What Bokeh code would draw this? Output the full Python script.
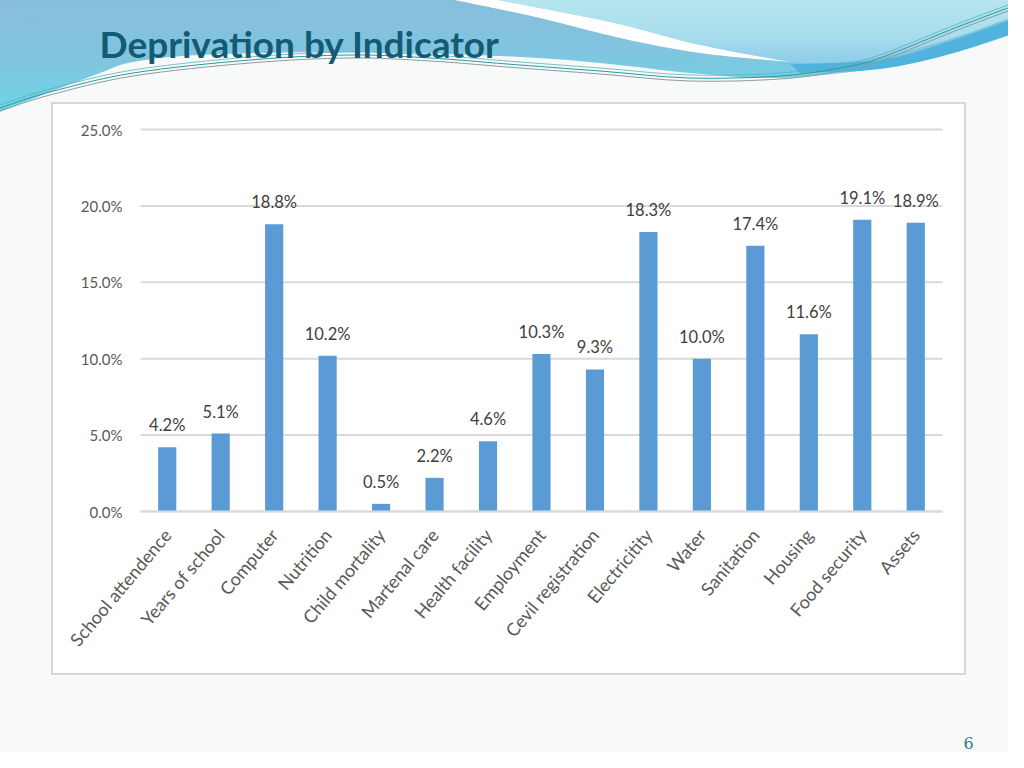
from bokeh.plotting import figure
from bokeh.models import (ColumnDataSource, Range1d, FixedTicker, PrintfTickFormatter, Label)
from bokeh.embed import file_html
from bokeh.resources import INLINE
from bokeh.core.properties import value
import math, base64

categories = ["School attendence", "Years of school", "Computer", "Nutrition",
              "Child mortality", "Martenal care", "Health facility", "Employment",
              "Cevil registration", "Electricitity", "Water", "Sanitation",
              "Housing", "Food security", "Assets"]
values = [4.2, 5.1, 18.8, 10.2, 0.5, 2.2, 4.6, 10.3, 9.3, 18.3, 10.0, 17.4, 11.6, 19.1, 18.9]
y_ticks = [0, 5, 10, 15, 20, 25]
title_text = "Deprivation by Indicator"
page_number = "6"

idx = list(range(len(categories)))
labels = [f"{v:.1f}%" for v in values]
src = ColumnDataSource(dict(x=idx, val=values, lab=labels))

W, H = 1008, 752
FL, FR, FT, FB = 140, 942, 129, 511      # chart plot area in page pixels
YMAX = 25.0
slot = (FR - FL) / len(categories)
ppu = (FB - FT) / YMAX
def dx(px): return (px - FL) / slot - 0.5     # page px -> x data
def dy(py): return (FB - py) / ppu            # page px -> y data
XLO, XHI = -0.5, len(categories) - 0.5

# ---- slide decoration (background only, no data) ----
def curve(points, start=True):
    P = points
    out = [f"M{P[0][0]},{P[0][1]}"] if start else [f"L{P[0][0]},{P[0][1]}"]
    for i in range(len(P) - 1):
        p0 = P[i - 1] if i > 0 else P[i]
        p1, p2 = P[i], P[i + 1]
        p3 = P[i + 2] if i + 2 < len(P) else P[i + 1]
        c1 = (p1[0] + (p2[0] - p0[0]) / 6, p1[1] + (p2[1] - p0[1]) / 6)
        c2 = (p2[0] - (p3[0] - p1[0]) / 6, p2[1] - (p3[1] - p1[1]) / 6)
        out.append(f"C{c1[0]:.1f},{c1[1]:.1f} {c2[0]:.1f},{c2[1]:.1f} {p2[0]},{p2[1]}")
    return " ".join(out)

lower = [(1024, 28), (950, 52), (880, 68), (780, 78), (690, 73), (600, 63),
         (500, 56), (350, 52), (200, 55), (133, 62), (100, 73), (50, 92), (0, 112)]
sw_top = [(498, 0), (610, 22), (700, 45), (790, 62)]
sw_bot = [(790, 62), (700, 53), (620, 38), (540, 18), (455, 0)]
right_low = [(1024, 13), (947, 40), (880, 57), (813, 64), (790, 62)]
band_top = [(790, 64), (880, 60), (947, 42), (1024, 15)]
band_bot = [(1024, 30), (950, 54), (880, 69), (800, 73)]
line_a = [(0, 108), (50, 92), (133, 73), (250, 60), (350, 55), (430, 58), (507, 64), (600, 71),
          (690, 78), (780, 76), (840, 68), (880, 58), (960, 26), (1024, 2)]

path_base = curve(lower) + " L0,0 L1024,0 Z"
path_right = curve(right_low) + " " + curve(sw_top[::-1], start=False) + " L1024,0 Z"
path_sw = curve(sw_top) + " " + curve(sw_bot, start=False) + " Z"
path_band = curve(band_top) + " " + curve(band_bot, start=False) + " Z"
def shifted(d): return [(x, y + d) for x, y in line_a]

svg = f'''<svg xmlns="http://www.w3.org/2000/svg" width="{W}" height="{H}" viewBox="0 0 {W} {H}">
<defs>
<linearGradient id="g1" x1="0" y1="0" x2="0.15" y2="1">
<stop offset="0" stop-color="#88bddb"/><stop offset="0.55" stop-color="#80c5df"/><stop offset="1" stop-color="#6cd6e5"/></linearGradient>
<linearGradient id="g2" x1="0" y1="0" x2="0" y2="1">
<stop offset="0" stop-color="#b6e6ee"/><stop offset="0.6" stop-color="#a6dcec"/><stop offset="1" stop-color="#8ccbea"/></linearGradient>
</defs>
<rect x="0" y="0" width="{W}" height="{H}" fill="#f8f9f9"/>
<path d="{path_base}" fill="url(#g1)"/>
<path d="{path_right}" fill="url(#g2)"/>
<path d="{path_sw}" fill="#ffffff"/>
<path d="{path_band}" fill="#4fb3dd"/>
<path d="{curve(line_a)}" fill="none" stroke="#2a9b9b" stroke-width="1"/>
<path d="{curve(shifted(3))}" fill="none" stroke="#8d9ba2" stroke-width="1"/>
<path d="{curve(shifted(-3))}" fill="none" stroke="#55b3c0" stroke-width="0.8"/>
<rect x="52" y="103" width="913" height="571" fill="#ffffff" stroke="#d6d6d6" stroke-width="2"/>
</svg>'''
bg = base64.b64encode(svg.encode()).decode()

# frame covers the whole canvas; the axes sit at fixed data locations
p = figure(width=W, height=H, x_range=Range1d(dx(0), dx(W)), y_range=Range1d(dy(H), dy(0)),
           output_backend="svg", toolbar_location=None, tools="",
           min_border_left=0, min_border_right=0, min_border_top=0, min_border_bottom=0)
p.title.visible = False
p.border_fill_color = None
p.background_fill_color = None
p.outline_line_color = None
p.styles = {"background-image": f"url('data:image/svg+xml;base64,{bg}')",
            "background-size": f"{W}px {H}px", "background-repeat": "no-repeat"}
p.xgrid.grid_line_color = None
p.ygrid.grid_line_color = None

# horizontal gridlines at the y ticks, limited to the plot area
grid_src = ColumnDataSource(dict(y=y_ticks))
p.segment(x0=XLO, x1=XHI, y0="y", y1="y", source=grid_src, line_color="#d9d9d9", line_width=2)

# bars and value labels
p.vbar(x="x", top="val", width=0.34, source=src, color="#5b9bd5", line_color=None)
p.text(x="x", y="val", text="lab", source=src, text_align="center", text_baseline="bottom",
       y_offset=-12, text_font=value("Lato"), text_font_size="16.5px", text_color="#404040")

# y axis
p.yaxis.ticker = FixedTicker(ticks=y_ticks)
p.yaxis.fixed_location = XLO
p.yaxis.bounds = (0, YMAX)
p.yaxis.formatter = PrintfTickFormatter(format="%.1f%%")
p.yaxis.axis_line_color = None
p.yaxis.major_tick_line_color = None
p.yaxis.minor_tick_line_color = None
p.yaxis.major_label_text_font = "Lato"
p.yaxis.major_label_text_font_size = "15px"
p.yaxis.major_label_text_color = "#595959"
p.yaxis.major_label_standoff = 12

# x axis (categories)
p.xaxis.ticker = FixedTicker(ticks=idx)
p.xaxis.major_label_overrides = {i: c for i, c in zip(idx, categories)}
p.xaxis.fixed_location = 0
p.xaxis.bounds = (XLO, XHI)
p.xaxis.axis_line_color = "#d9d9d9"
p.xaxis.axis_line_width = 2
p.xaxis.major_tick_line_color = None
p.xaxis.minor_tick_line_color = None
p.xaxis.major_label_orientation = 50 * math.pi / 180
p.xaxis.major_label_text_font = "Lato"
p.xaxis.major_label_text_font_size = "18px"
p.xaxis.major_label_text_color = "#595959"
p.xaxis.major_label_standoff = 14

# slide title and page number
p.add_layout(Label(x=dx(99), y=dy(43), text=title_text,
                   text_font="Lato", text_font_style="bold", text_font_size="37px",
                   text_color="#135b75", text_baseline="middle"))
p.add_layout(Label(x=dx(968), y=dy(742), text=page_number,
                   text_font="DejaVu Serif", text_font_size="16px", text_color="#2b7a8a",
                   text_align="center", text_baseline="middle"))

open("out.html", "w").write(file_html(p, INLINE))
